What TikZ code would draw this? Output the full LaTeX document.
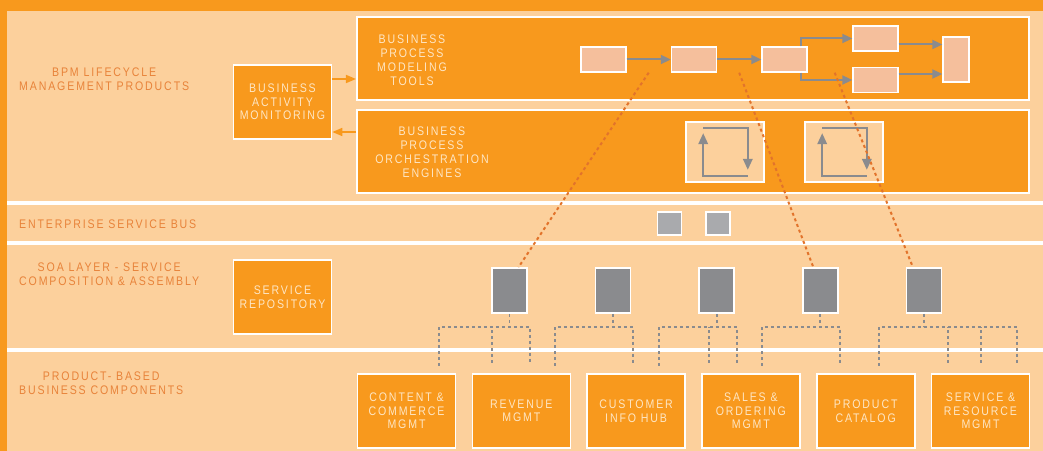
\documentclass[tikz,border=0pt]{standalone}
\usepackage{fontspec}
\setmainfont{Liberation Sans}[LetterSpace=15, FakeStretch=0.85]
\usetikzlibrary{arrows.meta, positioning, calc}

\definecolor{bpmorange}{HTML}{F8991D}
\definecolor{bpmpeach}{HTML}{FCD09C}
\definecolor{bpmlabel}{HTML}{E8833A}
\definecolor{bpmcream}{HTML}{FEE6C4}
\definecolor{bpmsalmon}{HTML}{F5BF9C}
\definecolor{bpmgrey}{HTML}{8A8B8E}
\definecolor{bpmlight}{HTML}{A9AAAD}
\definecolor{bpmlink}{HTML}{E2732B}

\begin{document}
\begin{tikzpicture}[
    x=1bp, y=-1bp,
    font=\fontsize{12.5}{14}\selectfont,
    obox/.style={draw=white, line width=1.6bp, fill=bpmorange, text=bpmcream, align=center,
                 inner sep=0pt, minimum width=98bp, minimum height=74bp,
                 font=\fontsize{12.5}{13.5}\selectfont},
    layer/.style={draw=white, line width=2bp, fill=bpmorange, inner sep=0pt,
                  minimum width=672bp, minimum height=83bp},
    btxt/.style={text=bpmcream, align=center, inner sep=0pt},
    mbox/.style={draw=white, line width=1.4bp, fill=bpmsalmon, inner sep=0pt,
                 minimum width=45bp, minimum height=25bp},
    lpbox/.style={draw=white, line width=1.6bp, fill=bpmpeach, inner sep=0pt,
                  minimum width=78bp, minimum height=60bp},
    ebox/.style={draw=white, line width=1.6bp, fill=bpmlight, inner sep=0pt,
                 minimum width=24bp, minimum height=23bp},
    sbox/.style={draw=white, line width=1.6bp, fill=bpmgrey, inner sep=0pt,
                 minimum width=35bp, minimum height=45bp},
    lab/.style={text=bpmlabel, align=center, anchor=west, inner sep=0pt},
    garr/.style={-{Triangle[length=10bp, width=9bp]}, line width=2bp, bpmgrey},
    larr/.style={-{Triangle[length=11bp, width=9.5bp]}, line width=2bp, bpmgrey},
    oarr/.style={-{Triangle[length=10bp, width=8bp]}, line width=1.6bp, bpmorange},
    dsh/.style={bpmgrey, line width=1.9bp, dash pattern=on 3bp off 3bp},
    lnk/.style={bpmlink, line width=2bp, dash pattern=on 3bp off 3bp}
  ]
    \useasboundingbox (0,0) rectangle (1043,451);
    % ---- background and layer rules ----
    \fill[bpmpeach] (0,0) rectangle (1043,451);
    \fill[bpmorange] (0,0) rectangle (1043,11);
    \fill[bpmorange] (0,0) rectangle (7,451);
    \fill[white] (7,201) rectangle (1043,205.5);
    \fill[white] (7,241) rectangle (1043,245.5);
    \fill[white] (7,348) rectangle (1043,352.5);
    % ---- layer captions ----
    \node[lab] (bpmlab) at (19,79) {BPM LIFECYCLE\\MANAGEMENT PRODUCTS};
    \node[lab] (esblab) at (19,224) {ENTERPRISE SERVICE BUS};
    \node[lab] (soalab) at (19,274.5) {SOA LAYER - SERVICE\\COMPOSITION \& ASSEMBLY};
    \node[lab] (prdlab) at (19,383.5) {PRODUCT- BASED\\BUSINESS COMPONENTS};
    % ---- BPM layer ----
    \node[obox] (bam) at (282.5,102) {BUSINESS\\ACTIVITY\\MONITORING};
    \node[layer] (mod) at (693,58.5) {};
    \node[layer] (orch) at (693,151.5) {};
    \node[btxt] (modtxt) at (412,60) {BUSINESS\\PROCESS\\MODELING\\TOOLS};
    \node[btxt] (orchtxt) at (432,152) {BUSINESS\\PROCESS\\ORCHESTRATION\\ENGINES};
    \draw[oarr] ([yshift=23bp]bam.east) -- ([yshift=23bp]bam.east -| mod.west);
    \draw[oarr] ([yshift=-30bp]bam.east -| orch.west) -- ([yshift=-30bp]bam.east);
    % process model
    \node[mbox] (m1) at (603.5,59.5) {};
    \node[mbox, right=44.1bp of m1] (m2) {};
    \node[mbox, right=44.1bp of m2] (m3) {};
    \node[mbox] (m4) at (875.5,38.5) {};
    \node[mbox] (m5) at (875.5,80) {};
    \node[mbox, minimum width=26bp, minimum height=45bp] (m6) at (956,59.5) {};
    \draw[garr] (m1) -- (m2);
    \draw[garr] (m2) -- (m3);
    \draw[garr] ([xshift=-7bp]m3.north east) |- (m4);
    \draw[garr] ([xshift=-7bp]m3.south east) |- (m5);
    \draw[garr] ([yshift=-6bp]m4.east) -- ([yshift=-6bp]m4.east -| m6.west);
    \draw[garr] ([yshift=6bp]m5.east) -- ([yshift=6bp]m5.east -| m6.west);
    % orchestration loops
    \node[lpbox] (lp1) at (725,152) {};
    \node[lpbox, right=39.4bp of lp1] (lp2) {};
    \draw[larr] ([xshift=-17bp, yshift=7bp]lp1.south east) -| ([xshift=18bp, yshift=-12bp]lp1.north west);
    \draw[larr] ([xshift=18bp, yshift=-7bp]lp1.north west) -| ([xshift=-17bp, yshift=13bp]lp1.south east);
    \draw[larr] ([xshift=-17bp, yshift=7bp]lp2.south east) -| ([xshift=18bp, yshift=-12bp]lp2.north west);
    \draw[larr] ([xshift=18bp, yshift=-7bp]lp2.north west) -| ([xshift=-17bp, yshift=13bp]lp2.south east);
    % ---- service bus ----
    \node[ebox] (e1) at (669.5,223.5) {};
    \node[ebox, right=22.9bp of e1] (e2) {};
    % ---- SOA layer ----
    \node[obox] (repo) at (282.5,297) {SERVICE\\REPOSITORY};
    \node[sbox] (s1) at (509.5,290.5) {};
    \node[sbox, right=67bp of s1] (s2) {};
    \node[sbox, right=67bp of s2] (s3) {};
    \node[sbox, right=67bp of s3] (s4) {};
    \node[sbox, right=67bp of s4] (s5) {};
    % ---- product components ----
    \node[obox] (p1) at (406.5,411) {CONTENT \&\\COMMERCE\\MGMT};
    \node[obox, right=15.2bp of p1] (p2) {REVENUE\\MGMT};
    \node[obox, right=15.2bp of p2] (p3) {CUSTOMER\\INFO HUB};
    \node[obox, right=15.2bp of p3] (p4) {SALES \&\\ORDERING\\MGMT};
    \node[obox, right=15.2bp of p4] (p5) {PRODUCT\\CATALOG};
    \node[obox, right=15.2bp of p5] (p6) {SERVICE \&\\RESOURCE\\MGMT};
    % ---- service to component links ----
    \coordinate (b1) at ([yshift=-13bp]s1.south);
    \coordinate (b2) at ([yshift=-13bp]s2.south);
    \coordinate (b3) at ([yshift=-13bp]s3.south);
    \coordinate (b4) at ([yshift=-13bp]s4.south);
    \coordinate (b5) at ([yshift=-13bp]s5.south);
    \coordinate (d1a) at (439,366);  \coordinate (d1b) at (492,363);  \coordinate (d1c) at (530,363);
    \coordinate (d2a) at (555,366);  \coordinate (d2b) at (633,363);
    \coordinate (d3a) at (659,366);  \coordinate (d3b) at (709,363);  \coordinate (d3c) at (737,363);
    \coordinate (d4a) at (762,366);  \coordinate (d4b) at (840,363);
    \coordinate (d5a) at (879,366);  \coordinate (d5b) at (948,363);  \coordinate (d5c) at (981,363);
    \coordinate (d5d) at (1017,363);
    \draw[dsh] (s1) -- (b1);
    \draw[dsh] (d1a) |- (b1) -| (d1c);
    \draw[dsh] (d1b) -- (d1b |- b1);
    \draw[dsh] (s2) -- (b2);
    \draw[dsh] (d2a) |- (b2) -| (d2b);
    \draw[dsh] (s3) -- (b3);
    \draw[dsh] (d3a) |- (b3) -| (d3c);
    \draw[dsh] (d3b) -- (d3b |- b3);
    \draw[dsh] (s4) -- (b4);
    \draw[dsh] (d4a) |- (b4) -| (d4b);
    \draw[dsh] (s5) -- (b5);
    \draw[dsh] (d5a) |- (b5) -| (d5d);
    \draw[dsh] (d5b) -- (d5b |- b5);
    \draw[dsh] (d5c) -- (d5c |- b5);
    % ---- model to service links ----
    \draw[lnk] ([xshift=22bp]m1.south east) -- ([xshift=9bp]s1.north);
    \draw[lnk] ([xshift=22bp]m2.south east) -- ([xshift=-7bp]s4.north);
    \draw[lnk] ([xshift=27bp]m3.south east) -- ([xshift=-11bp]s5.north);
  \end{tikzpicture}
\end{document}
